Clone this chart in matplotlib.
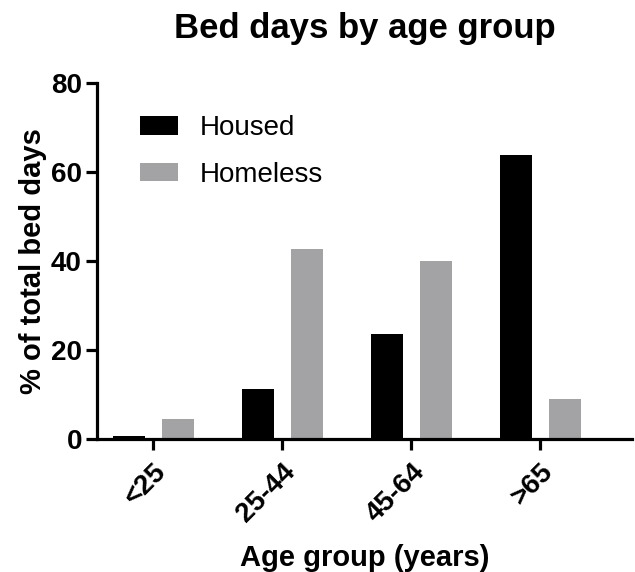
import matplotlib.pyplot as plt
import numpy as np

plt.rcParams['font.family'] = ['Liberation Sans', 'DejaVu Sans']

groups = ["<25", "25-44", "45-64", ">65"]
housed = [0.7, 11.2, 23.6, 63.9]
homeless = [4.6, 42.6, 40.1, 8.9]

fig = plt.figure(figsize=(6.35, 5.72), dpi=100)
ax = fig.add_axes([0.153, 0.2325, 0.842, 0.6225])

x = np.arange(len(groups))
w = 0.25
ax.bar(x - 0.19, housed, w, color="black", label="Housed")
ax.bar(x + 0.19, homeless, w, color="#a3a3a6", label="Homeless")

ax.set_xlim(-0.434, 3.71)
ax.set_ylim(0, 80)
ax.set_yticks([0, 20, 40, 60, 80])
ax.set_xticks(x)
ax.set_xticklabels(groups, rotation=45, ha="right", rotation_mode="anchor")

for s in ["top", "right"]:
    ax.spines[s].set_visible(False)
for s in ["left", "bottom"]:
    ax.spines[s].set_linewidth(2.3)
ax.tick_params(width=2.3, length=8, labelsize=20)
ax.tick_params(axis="y", pad=3)
ax.tick_params(axis="x", pad=6)
for lab in ax.get_xticklabels() + ax.get_yticklabels():
    lab.set_fontweight("bold")

ax.set_ylabel("% of total bed days", fontsize=21, fontweight="bold", labelpad=3)
ax.set_xlabel("Age group (years)", fontsize=21, fontweight="bold", labelpad=12)
ax.set_title("Bed days by age group", fontsize=25, fontweight="bold", pad=32)

ax.legend(loc="upper left", bbox_to_anchor=(0.08, 0.91), frameon=False, fontsize=20,
          handlelength=1.37, handleheight=0.65, labelspacing=0.75, handletextpad=0.8,
          borderpad=0, borderaxespad=0)

fig.savefig("out.png", dpi=100)
